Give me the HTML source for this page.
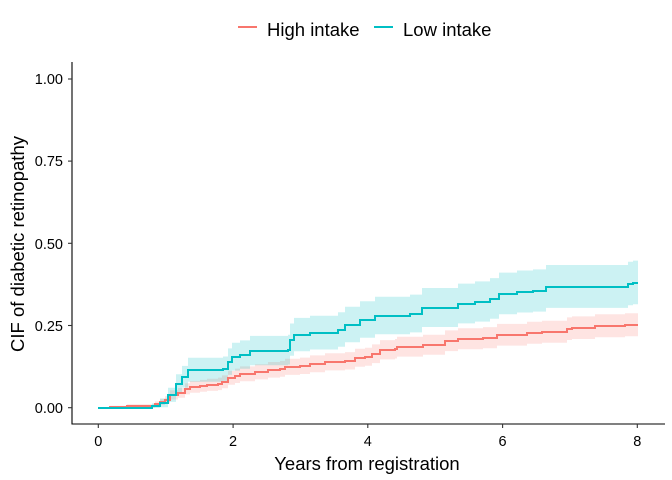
<!DOCTYPE html>
<html><head><meta charset="utf-8"><style>
html,body{margin:0;padding:0;background:#fff}
svg{display:block;font-family:"Liberation Sans",sans-serif}
</style></head><body>
<svg id="s" width="672" height="480" xmlns="http://www.w3.org/2000/svg">
<g id="plot"></g>
<line x1="72" y1="62" x2="72" y2="424.5" stroke="#000" stroke-width="1.1"/>
<line x1="71.5" y1="424" x2="665" y2="424" stroke="#000" stroke-width="1.1"/>
<g stroke="#333" stroke-width="1.1">
<line x1="68" y1="407.7" x2="72" y2="407.7"/><line x1="68" y1="325.5" x2="72" y2="325.5"/>
<line x1="68" y1="243.3" x2="72" y2="243.3"/><line x1="68" y1="161.1" x2="72" y2="161.1"/>
<line x1="68" y1="79" x2="72" y2="79"/>
<line x1="98.3" y1="424" x2="98.3" y2="428"/><line x1="233.1" y1="424" x2="233.1" y2="428"/>
<line x1="367.8" y1="424" x2="367.8" y2="428"/><line x1="502.6" y1="424" x2="502.6" y2="428"/>
<line x1="637.3" y1="424" x2="637.3" y2="428"/>
</g>
<g font-size="14.5" fill="#000" text-anchor="end">
<text x="63" y="413">0.00</text><text x="63" y="331">0.25</text><text x="63" y="249">0.50</text>
<text x="63" y="166">0.75</text><text x="63" y="84">1.00</text>
</g>
<g font-size="14.5" fill="#000" text-anchor="middle">
<text x="98.3" y="446">0</text><text x="233.1" y="446">2</text><text x="367.8" y="446">4</text>
<text x="502.6" y="446">6</text><text x="637.3" y="446">8</text>
</g>
<text x="367" y="470" font-size="18.5" text-anchor="middle">Years from registration</text>
<text transform="translate(24,244) rotate(-90)" font-size="18.5" text-anchor="middle">CIF of diabetic retinopathy</text>
<line x1="238" y1="27" x2="257" y2="27" stroke="#F8766D" stroke-width="2"/>
<text x="267" y="36" font-size="18.5">High intake</text>
<line x1="374" y1="27" x2="393" y2="27" stroke="#00BFC4" stroke-width="2"/>
<text x="403" y="36" font-size="18.5">Low intake</text>
</svg>
<script>
var teal=[[98,408],[152,406],[160,403],[168,395],[176,384],[182,377],[188,370],[223,369],[228,362],[232,357],[240,355],[250,351],[288,350],[290,340],[294,335],[310,333],[338,330],[345,325],[360,320],[375,316],[410,314],[422,308],[458,304],[475,302],[490,299],[499,294],[517,292],[533,291],[546,287],[628,284],[633,283]];
var red=[[98,408],[110,407],[127,406],[155,404],[160,402],[165,400],[170,395],[178,393],[185,389],[190,387],[200,386],[207,385],[218,384],[222,382],[228,378],[235,376],[240,374],[255,372],[268,370],[280,369],[285,367],[300,366],[310,364],[325,362],[345,361],[355,358],[365,357],[372,354],[380,350],[395,349],[397,347],[423,345],[445,341],[458,339],[483,338],[497,335],[527,333],[542,332],[567,329],[572,328],[595,326],[625,325]];
var END=638;
function step(pts){var d='';for(var i=0;i<pts.length;i++){var x=pts[i][0],y=pts[i][1];var nx=i+1<pts.length?pts[i+1][0]:END;d+=(i?'L':'M')+x+','+y+'L'+nx+','+y;}return d;}
function ribbon(pts,k,kl){var up=[],lo=[];for(var i=0;i<pts.length;i++){var x=pts[i][0],y=pts[i][1],nx=i+1<pts.length?pts[i+1][0]:END,h=k*Math.sqrt(408-y);up.push([x,y-h],[nx,y-h]);lo.push([x,y+h*kl],[nx,y+h*kl]);}
var d='M'+up.map(function(p){return p[0]+','+p[1].toFixed(1)}).join('L');lo.reverse();d+='L'+lo.map(function(p){return p[0]+','+Math.min(408,p[1]).toFixed(1)}).join('L')+'Z';return d;}
var g=document.getElementById('plot'),ns='http://www.w3.org/2000/svg';
function add(d,a){var p=document.createElementNS(ns,'path');p.setAttribute('d',d);for(var k in a)p.setAttribute(k,a[k]);g.appendChild(p);}
add(ribbon(red,1.3,0.95),{fill:'#F8766D','fill-opacity':0.2});
add(ribbon(teal,2.0,0.95),{fill:'#00BFC4','fill-opacity':0.2});
add(step(red),{fill:'none',stroke:'#F8766D','stroke-width':2});
add(step(teal),{fill:'none',stroke:'#00BFC4','stroke-width':2});
</script>
</body></html>
